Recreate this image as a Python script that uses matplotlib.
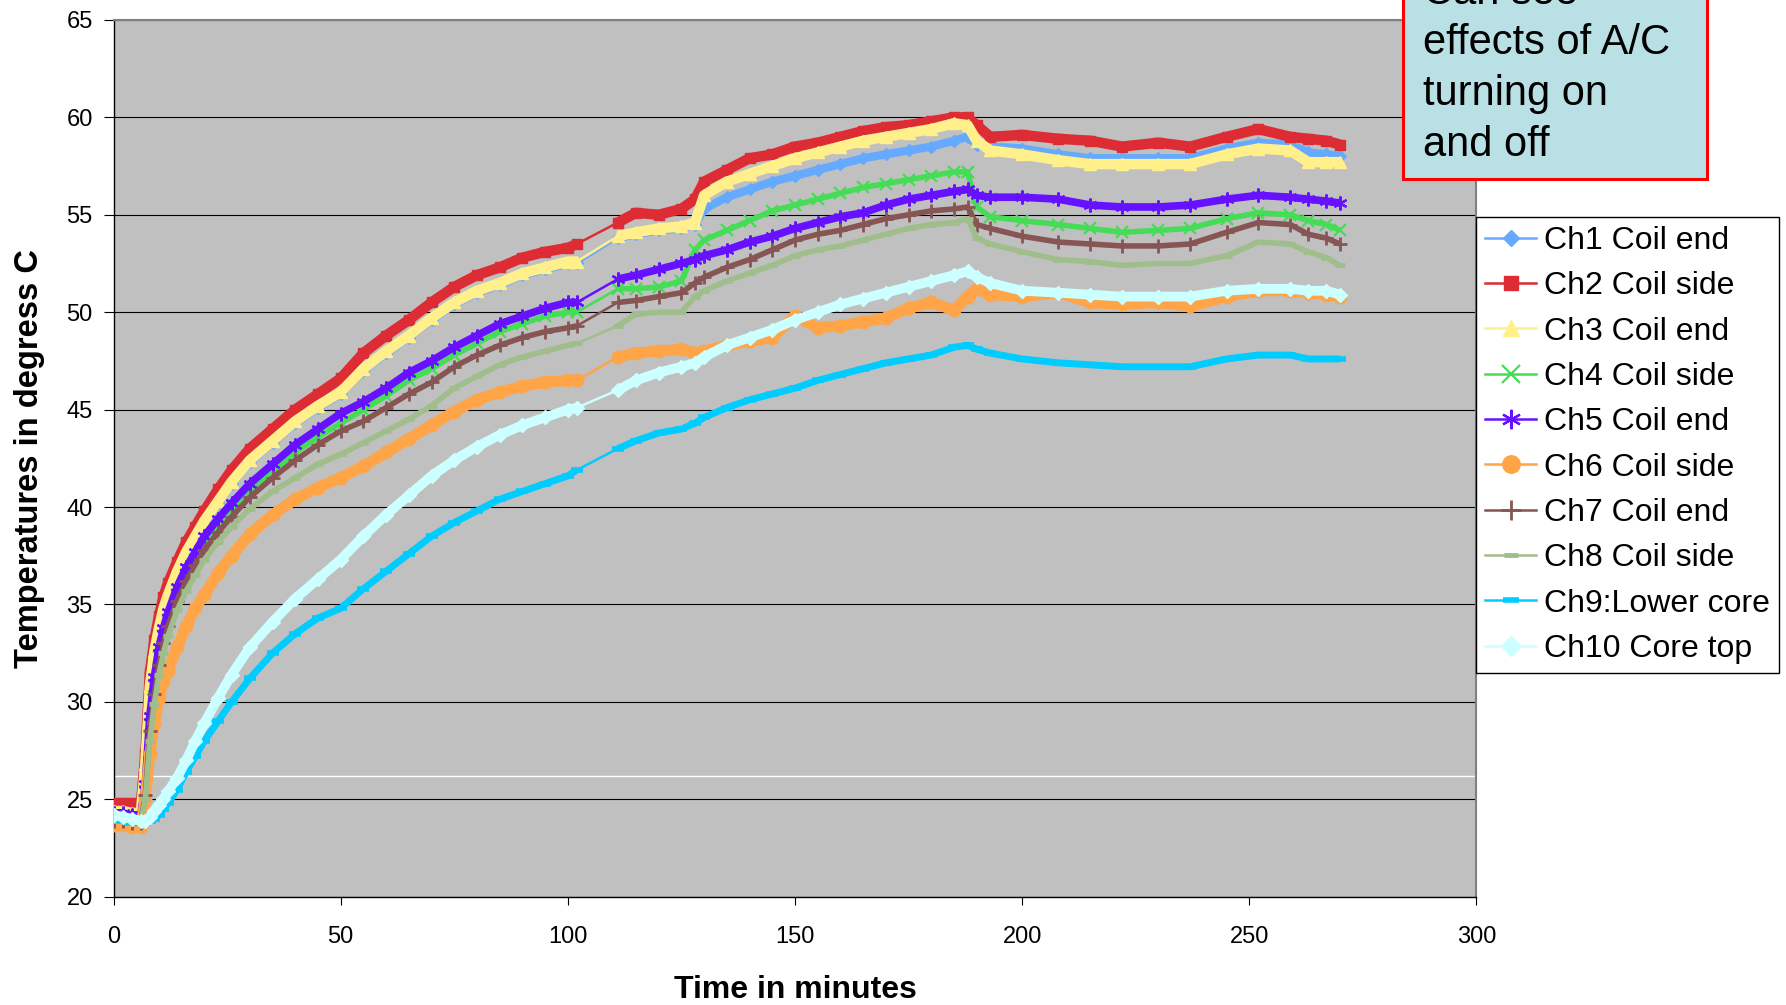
import numpy as np
import matplotlib.pyplot as plt
from matplotlib.patches import Rectangle

plt.rcParams['font.family'] = ['Liberation Sans', 'DejaVu Sans']

# tempo em minutos (mesmo eixo para todos os canais)
tempo = [0, 2, 4, 6, 7, 8, 9, 10, 11, 12, 14, 16, 18, 20, 23, 26, 30, 35, 40, 45, 50,
         55, 60, 65, 70, 75, 80, 85, 90, 95, 100, 102,
         111, 115, 120, 125, 128, 130, 135, 140, 145, 150, 155, 160, 165, 170, 175, 180, 185, 188, 190, 193,
         200, 208, 215, 222, 230, 237, 245, 252, 259, 263, 267, 270]

ch1 = [24.3, 24.3, 24.2, 24.2, 26.7, 30.7, 32.5, 33.7, 34.7, 35.4, 36.6, 37.6, 38.4, 39.2, 40.2, 41.2, 42.3, 43.3, 44.3, 45.1, 45.8,
       47.0, 47.9, 48.7, 49.6, 50.4, 51.0, 51.4, 51.9, 52.2, 52.5, 52.5,
       53.8, 54.0, 54.2, 54.3, 54.5, 55.3, 55.9, 56.3, 56.7, 57.0, 57.3, 57.6, 57.9, 58.1, 58.3, 58.5, 58.8, 59.0, 58.6, 58.5,
       58.4, 58.1, 57.9, 57.9, 57.9, 57.9, 58.4, 58.7, 58.6, 58.2, 58.1, 58.0]
ch2 = [24.8, 24.8, 24.8, 24.7, 27.3, 31.5, 33.2, 34.4, 35.4, 36.1, 37.2, 38.2, 39.0, 39.8, 40.9, 41.9, 43.0, 44.0, 45.0, 45.8, 46.6,
       47.9, 48.8, 49.6, 50.5, 51.3, 51.9, 52.3, 52.8, 53.1, 53.3, 53.5,
       54.6, 55.1, 55.0, 55.3, 55.8, 56.7, 57.3, 57.9, 58.1, 58.5, 58.7, 59.0, 59.3, 59.5, 59.6, 59.8, 60.0, 60.0, 59.6, 59.0,
       59.1, 58.9, 58.8, 58.5, 58.7, 58.5, 59.0, 59.4, 59.0, 58.9, 58.8, 58.6]
ch3 = [24.4, 24.4, 24.3, 24.3, 26.8, 30.8, 32.6, 33.8, 34.8, 35.5, 36.7, 37.7, 38.5, 39.3, 40.3, 41.3, 42.4, 43.4, 44.4, 45.2, 45.9,
       47.1, 48.0, 48.8, 49.7, 50.5, 51.1, 51.5, 52.0, 52.3, 52.6, 52.6,
       53.9, 54.1, 54.3, 54.4, 54.6, 56.0, 56.7, 57.1, 57.5, 57.9, 58.2, 58.5, 58.8, 59.0, 59.2, 59.4, 59.7, 59.6, 58.8, 58.3,
       58.1, 57.8, 57.6, 57.6, 57.6, 57.6, 58.1, 58.4, 58.3, 57.7, 57.7, 57.7]
ch4 = [24.0, 24.0, 24.0, 23.9, 25.4, 28.8, 30.8, 32.3, 33.4, 34.2, 35.5, 36.5, 37.3, 38.1, 39.0, 39.8, 40.8, 41.8, 42.8, 43.6, 44.3,
       45.0, 45.7, 46.5, 47.1, 47.8, 48.4, 49.0, 49.4, 49.8, 50.0, 50.0,
       51.2, 51.2, 51.3, 51.6, 53.2, 53.7, 54.2, 54.7, 55.2, 55.5, 55.8, 56.1, 56.4, 56.6, 56.8, 57.0, 57.2, 57.2, 55.4, 54.9,
       54.7, 54.5, 54.3, 54.1, 54.2, 54.3, 54.8, 55.1, 55.0, 54.7, 54.5, 54.2]
ch5 = [24.3, 24.3, 24.2, 24.2, 25.8, 29.3, 31.3, 32.8, 33.8, 34.6, 35.9, 36.9, 37.7, 38.5, 39.4, 40.2, 41.2, 42.2, 43.2, 44.0, 44.8,
       45.4, 46.1, 46.9, 47.5, 48.2, 48.8, 49.4, 49.8, 50.2, 50.5, 50.5,
       51.7, 51.9, 52.2, 52.5, 52.7, 52.9, 53.2, 53.6, 53.9, 54.3, 54.6, 54.9, 55.1, 55.5, 55.8, 56.0, 56.2, 56.3, 56.0, 55.9,
       55.9, 55.8, 55.5, 55.4, 55.4, 55.5, 55.8, 56.0, 55.9, 55.8, 55.7, 55.6]
ch6 = [23.7, 23.7, 23.6, 23.6, 25.0, 27.3, 28.9, 30.2, 31.0, 31.6, 32.8, 33.9, 34.8, 35.5, 36.6, 37.5, 38.6, 39.6, 40.4, 41.0, 41.5,
       42.1, 42.8, 43.5, 44.2, 44.9, 45.5, 45.9, 46.2, 46.4, 46.5, 46.5,
       47.7, 47.9, 48.0, 48.1, 47.9, 48.0, 48.3, 48.5, 48.7, 49.8, 49.2, 49.3, 49.5, 49.7, 50.2, 50.5, 50.1, 50.8, 51.2, 50.9,
       50.8, 51.0, 50.5, 50.4, 50.5, 50.3, 50.8, 51.1, 51.1, 51.0, 50.9, 50.8]
ch7 = [23.9, 23.9, 23.8, 23.8, 25.2, 28.5, 30.4, 31.9, 33.0, 33.9, 35.2, 36.2, 37.0, 37.8, 38.7, 39.5, 40.5, 41.5, 42.4, 43.2, 43.9,
       44.4, 45.1, 45.8, 46.4, 47.2, 47.8, 48.3, 48.7, 49.0, 49.2, 49.3,
       50.5, 50.6, 50.8, 51.0, 51.5, 51.8, 52.3, 52.7, 53.2, 53.7, 54.0, 54.2, 54.5, 54.8, 55.0, 55.2, 55.3, 55.4, 54.5, 54.3,
       53.9, 53.6, 53.5, 53.4, 53.4, 53.5, 54.1, 54.6, 54.5, 54.0, 53.8, 53.5]
ch8 = [23.9, 23.9, 23.8, 23.8, 25.0, 28.0, 29.9, 31.4, 32.5, 33.4, 34.7, 35.7, 36.5, 37.3, 38.2, 39.0, 39.9, 40.8, 41.5, 42.2, 42.7,
       43.3, 43.9, 44.5, 45.2, 46.1, 46.7, 47.3, 47.7, 48.0, 48.3, 48.4,
       49.3, 49.9, 50.0, 50.0, 50.8, 51.1, 51.6, 52.0, 52.4, 52.9, 53.2, 53.4, 53.7, 54.0, 54.3, 54.5, 54.6, 54.8, 53.8, 53.5,
       53.1, 52.7, 52.6, 52.4, 52.5, 52.5, 52.9, 53.6, 53.5, 53.1, 52.8, 52.4]
ch9 = [24.0, 23.9, 23.8, 23.8, 23.8, 23.9, 24.0, 24.2, 24.5, 24.8, 25.5, 26.4, 27.2, 28.0, 29.0, 30.0, 31.2, 32.5, 33.5, 34.3, 34.8,
       35.8, 36.7, 37.6, 38.5, 39.2, 39.8, 40.4, 40.8, 41.2, 41.6, 41.9,
       43.0, 43.4, 43.8, 44.0, 44.3, 44.6, 45.1, 45.5, 45.8, 46.1, 46.5, 46.8, 47.1, 47.4, 47.6, 47.8, 48.2, 48.3, 48.1, 47.9,
       47.6, 47.4, 47.3, 47.2, 47.2, 47.2, 47.6, 47.8, 47.8, 47.6, 47.6, 47.6]
ch10 = [24.2, 24.1, 24.0, 23.9, 23.9, 24.1, 24.4, 24.7, 25.0, 25.4, 26.1, 27.0, 28.0, 28.9, 30.2, 31.4, 32.8, 34.1, 35.3, 36.3, 37.3,
        38.5, 39.6, 40.6, 41.6, 42.4, 43.1, 43.7, 44.2, 44.6, 45.0, 45.1,
        46.0, 46.5, 46.9, 47.2, 47.4, 47.7, 48.3, 48.7, 49.1, 49.6, 50.0, 50.4, 50.7, 51.0, 51.3, 51.6, 51.9, 52.1, 51.8, 51.5,
        51.1, 51.0, 50.9, 50.8, 50.8, 50.8, 51.1, 51.2, 51.2, 51.1, 51.1, 50.9]

nomes = ['Ch1 Coil end', 'Ch2 Coil side', 'Ch3 Coil end', 'Ch4 Coil side', 'Ch5 Coil end',
         'Ch6 Coil side', 'Ch7 Coil end', 'Ch8 Coil side', 'Ch9:Lower core', 'Ch10 Core top']
canais = [ch1, ch2, ch3, ch4, ch5, ch6, ch7, ch8, ch9, ch10]

cores = ['#66AAFF', '#DD2C33', '#FFF08C', '#44DD55', '#6611FF',
         '#FFA548', '#885555', '#A0BE8C', '#00CCFF', '#CCFFFF']
marcadores = ['D', 's', '^', 'x', (6, 2, 0), 'o', '+', '_', '_', 'D']
tam_marc = [6, 7, 8, 9, 10, 9, 10, 7, 8, 7]
borda_marc = [1, 1, 1, 1.6, 1.6, 1, 2, 3.5, 4, 1]
largura_faixa = [6, 7.5, 7.5, 4, 5.5, 8, 4, 4, 5, 7]

fig = plt.figure(figsize=(17.86, 10.05), dpi=100)
ax = fig.add_axes([0.06355, 0.10776, 0.7631, 0.8724])
ax.set_facecolor('#C0C0C0')

t = np.array(tempo)
# o registro tem uma falha entre ~102 e ~111 min
corte = np.where(np.diff(t) > 5)[0][0] + 1

linhas = []
for i in range(len(canais)):
    v = np.array(canais[i])
    z = 3 + i
    ax.plot(t[:corte], v[:corte], color=cores[i], lw=largura_faixa[i],
            solid_capstyle='butt', zorder=z)
    ax.plot(t[corte:], v[corte:], color=cores[i], lw=largura_faixa[i],
            solid_capstyle='butt', zorder=z)
    l, = ax.plot(t, v, color=cores[i], lw=1.8, marker=marcadores[i],
                 ms=tam_marc[i], mew=borda_marc[i], mec=cores[i], mfc=cores[i],
                 label=nomes[i], zorder=z)
    linhas.append(l)

ax.set_xlim(0, 300)
ax.set_ylim(20, 65)
ax.set_xticks(range(0, 301, 50))
ax.set_yticks(range(20, 66, 5))
ax.yaxis.grid(True, color='black', lw=0.8)
ax.set_axisbelow(True)
ax.axhline(26.2, color='white', lw=1, zorder=2)

ax.tick_params(axis='both', labelsize=17, color='black', direction='out')
ax.tick_params(axis='y', length=7, pad=8)
ax.tick_params(axis='x', length=6, pad=15)
for s in ['left', 'bottom']:
    ax.spines[s].set_color('black')
    ax.spines[s].set_linewidth(1)
for s in ['right', 'top']:
    ax.spines[s].set_color('#808080')
    ax.spines[s].set_linewidth(1.5)

ax.set_xlabel('Time in minutes', fontsize=23, fontweight='bold')
ax.xaxis.set_label_coords(0.5, -0.089)
ax.set_ylabel('Temperatures in degress C', fontsize=23.5, fontweight='bold')
ax.yaxis.set_label_coords(-0.05, 0.5)

leg = ax.legend(handles=linhas, loc='upper left',
                bbox_to_anchor=(1476 / 1786, 1 - 217 / 1005), bbox_transform=fig.transFigure,
                fontsize=23, frameon=True, fancybox=False, framealpha=1,
                edgecolor='black', borderaxespad=0, borderpad=0.28,
                labelspacing=0.48, handlelength=1.6, handletextpad=0.25,
                markerscale=1.4)
leg.get_frame().set_linewidth(1)

# caixa de texto sobre o A/C
caixa = Rectangle((1403 / 1786, 1 - 179 / 1005), 304 / 1786, 0.2,
                  transform=fig.transFigure, facecolor='#B9E0E4',
                  edgecolor='#FF0000', lw=2.2, zorder=5)
fig.patches.append(caixa)
frases = ['Can see', 'effects of A/C', 'turning on', 'and off']
base = [3.5, 54.3, 105.1, 155.9]
for k in range(len(frases)):
    fig.text(1423 / 1786, 1 - base[k] / 1005, frases[k], fontsize=30,
             va='baseline', ha='left', zorder=6)

fig.savefig('out.png', dpi=100, facecolor='white')
